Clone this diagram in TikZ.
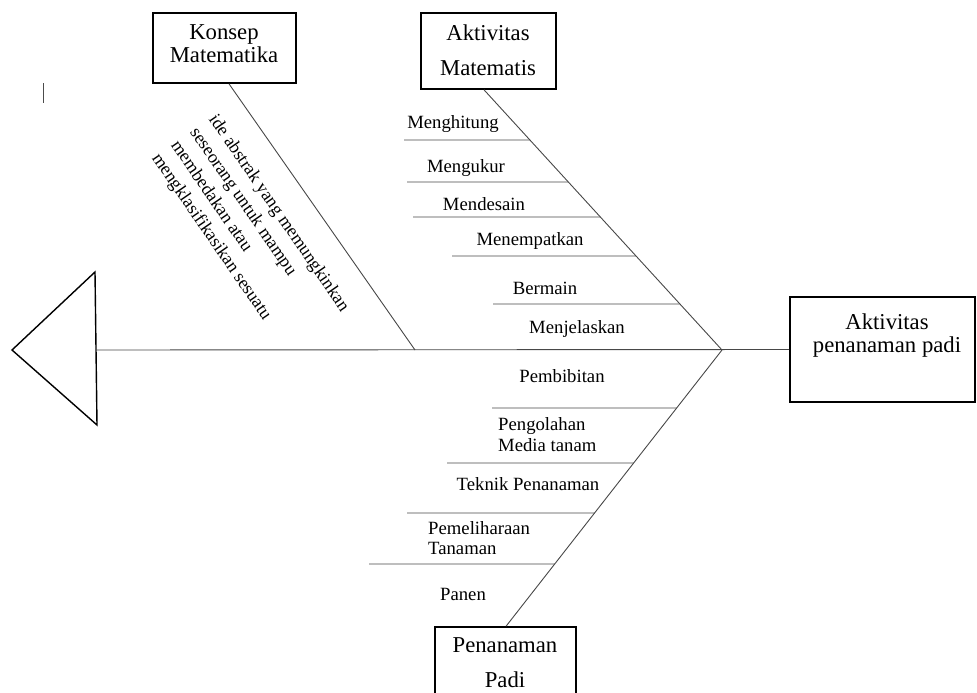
\documentclass[tikz,border=0pt]{standalone}
\usepackage{fontspec}
\setmainfont{Liberation Serif}
\usetikzlibrary{calc}
\begin{document}
\begin{tikzpicture}[x=1pt,y=-1pt,
  bone/.style={draw=black!72, line width=0.9pt},
  headbox/.style={draw=black, line width=1.6pt, inner sep=0pt},
  boxtext/.style={inner sep=0pt, align=center, font=\fontsize{22.7}{23}\selectfont},
  boxtextwide/.style={inner sep=0pt, align=center, font=\fontsize{22.7}{35}\selectfont},
  ribtext/.style={inner sep=0pt, font=\fontsize{18.7}{20.5}\selectfont},
  notetext/.style={inner sep=0pt, align=left, font=\fontsize{18}{23}\selectfont},
  head/.style={draw=black, line width=1.4pt, line join=miter}]
\useasboundingbox (0,0) rectangle (977,693);

% boxes
\node[headbox, minimum width=143pt, minimum height=70pt] (km) at (224.5,48) {};
\node[boxtext] (kmtext) at (224,43.5) {Konsep\\Matematika};
\node[headbox, minimum width=135pt, minimum height=76pt] (am) at (488.5,51) {};
\node[boxtextwide] (amtext) at (488,50) {Aktivitas\\Matematis};
\node[headbox, minimum width=185pt, minimum height=105pt] (ap) at (882.5,349.5) {};
\node[boxtext] (aptext) at (887,336) {Aktivitas\\penanaman padi};
\node[headbox, minimum width=141pt, minimum height=93pt] (pp) at (505.5,673.5) {};
\node[boxtextwide] (pptext) at (505,663) {Penanaman\\Padi};

% head triangle
\coordinate (tritop) at (95,272);
\coordinate (trileft) at (12,350);
\coordinate (tribot) at (97,425);
\coordinate (trimid) at (96,350);
\draw[head] (tritop) -- (trileft) -- (tribot) -- cycle;

% cursor mark
\coordinate (curtop) at (43,83);
\coordinate (curbot) at (43,103);
\draw[black!70, line width=0.9pt] (curtop) -- (curbot);

% spine and bones
\coordinate (J) at (722,350);
\coordinate (kmjoin) at (415,350);
\coordinate (kmbot) at ($(km.south west)!0.531!(km.south east)$);
\coordinate (amtop) at ($(am.south west)!0.467!(am.south east)$);
\coordinate (pptop) at ($(pp.north west)!0.504!(pp.north east)$);
\draw[bone] (trimid) -- (ap.west);
\draw[bone] (kmbot) -- (kmjoin);
\draw[bone] (amtop) -- (J);
\draw[bone] (J) -- (pptop);

% upper ribs
\foreach \n/\x/\y in {ra/404/140, rb/407/182, rc/413/217, rd/452/256, re/493/304}{
  \coordinate (\n) at (\x,\y);
  \draw[bone] (\n) -- (intersection cs: first line={(amtop)--(J)}, second line={(\n)--([xshift=10pt]\n)});
}
% lower ribs
\foreach \n/\x/\y in {rf/492/408, rg/447/463, rh/407/513, ri/369/564}{
  \coordinate (\n) at (\x,\y);
  \draw[bone] (\n) -- (intersection cs: first line={(J)--(pptop)}, second line={(\n)--([xshift=10pt]\n)});
}

% rib labels
\node[ribtext] (t1) at (453,124.5) {Menghitung};
\node[ribtext] (t2) at (466,168.5) {Mengukur};
\node[ribtext] (t3) at (484,204.5) {Mendesain};
\node[ribtext] (t4) at (530,241.5) {Menempatkan};
\node[ribtext] (t5) at (545,288.5) {Bermain};
\node[ribtext] (t6) at (577,329.5) {Menjelaskan};
\node[ribtext] (t7) at (562,376.5) {Pembibitan};
\node[ribtext, align=left, anchor=west] (t8) at (498,434.5) {Pengolahan\\Media tanam};
\node[ribtext] (t9) at (528,484.5) {Teknik Penanaman};
\node[ribtext, align=left, anchor=west] (t10) at (428,538) {Pemeliharaan\\Tanaman};
\node[ribtext] (t11) at (463,594.5) {Panen};

% rotated note
\node[notetext, rotate=-55.5] (kmnote) at (250,233) {ide abstrak yang memungkinkan\\seseorang untuk mampu\\membedakan atau\\mengklasifikasikan sesuatu};
\end{tikzpicture}
\end{document}
